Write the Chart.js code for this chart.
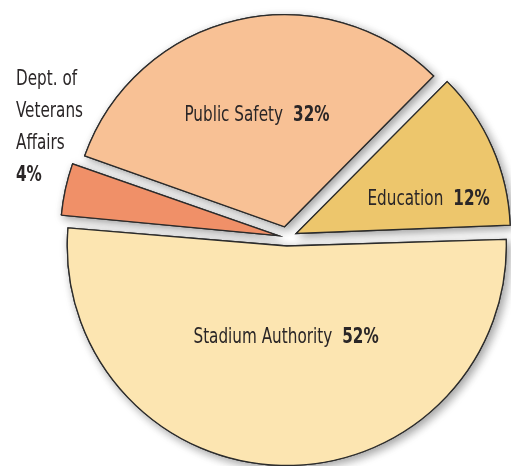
<!DOCTYPE html>
<html>
<head>
<meta charset="utf-8">
<script src="https://cdn.jsdelivr.net/npm/chart.js@4.4.1/dist/chart.umd.min.js"></script>
<style>
  html, body { margin: 0; padding: 0; background: #fff; }
  #wrap { position: relative; width: 511px; height: 466px; }
</style>
</head>
<body>
<div id="wrap"><canvas id="budgetPie"></canvas></div>
<script>
const categories = ['Public Safety', 'Education', 'Stadium Authority', 'Dept. of Veterans Affairs'];
const shares = [32, 12, 52, 4];
const sliceColors = ['#f8c195', '#edc66c', '#fce5b1', '#f09068'];
const sliceOffsets = [44, 40, 34, 36];

const FONT_FAMILY = '"Liberation Sans Narrow", "DejaVu Sans Condensed", "Roboto", sans-serif';
const TEXT_COLOR = '#2a2627';
const SQUEEZE = 0.77;

// label spot inside a slice: fraction of radius + turn (deg) away from slice middle
const labelSpots = [
  { frac: 0.568, turn: -1.6 },
  { frac: 0.689, turn: 10.6 },
  { frac: 0.498, turn: -1 },
  null
];

function drawLabel(ctx, name, pct, x, y) {
  ctx.save();
  ctx.translate(x, y);
  ctx.scale(SQUEEZE, 1);
  const reg = '22px ' + FONT_FAMILY;
  const bold = 'bold 22px ' + FONT_FAMILY;
  ctx.font = reg;
  const w1 = ctx.measureText(name).width;
  ctx.font = bold;
  const w2 = ctx.measureText(pct).width;
  const gap = 13;
  let left = -(w1 + gap + w2) / 2;
  ctx.font = reg;
  ctx.fillText(name, left, 0);
  ctx.font = bold;
  ctx.fillText(pct, left + w1 + gap, 0);
  ctx.restore();
}

// soft grey drop shadow under every slice, painted before the slices themselves
const sliceShadow = {
  id: 'sliceShadow',
  beforeDatasetsDraw(chart) {
    const ctx = chart.ctx;
    const meta = chart.getDatasetMeta(0);
    ctx.save();
    ctx.shadowColor = 'rgba(0,0,0,0.38)';
    ctx.shadowBlur = 10;
    ctx.shadowOffsetX = 3;
    ctx.shadowOffsetY = 3;
    meta.data.forEach(arc => arc.draw(ctx));
    ctx.restore();
  }
};

const sliceLabels = {
  id: 'sliceLabels',
  afterDatasetsDraw(chart) {
    const ctx = chart.ctx;
    const meta = chart.getDatasetMeta(0);
    ctx.save();
    ctx.fillStyle = TEXT_COLOR;
    ctx.textBaseline = 'alphabetic';
    ctx.textAlign = 'left';
    meta.data.forEach((arc, i) => {
      const spot = labelSpots[i];
      const pct = shares[i] + '%';
      if (!spot) {
        // small slice: text sits outside, to the upper left
        const lines = ['Dept. of', 'Veterans', 'Affairs'];
        ctx.save();
        ctx.translate(16, 85);
        ctx.scale(SQUEEZE, 1);
        ctx.font = '22px ' + FONT_FAMILY;
        lines.forEach((ln, k) => ctx.fillText(ln, 0, k * 32));
        ctx.font = 'bold 22px ' + FONT_FAMILY;
        ctx.fillText(pct, 0, 96);
        ctx.restore();
        return;
      }
      const mid = (arc.startAngle + arc.endAngle) / 2 + spot.turn * Math.PI / 180;
      const r = spot.frac * arc.outerRadius;
      drawLabel(ctx, categories[i], pct, arc.x + Math.cos(mid) * r, arc.y + Math.sin(mid) * r);
    });
    ctx.restore();
  }
};

new Chart(document.getElementById('budgetPie'), {
  type: 'pie',
  data: {
    labels: categories,
    datasets: [{
      data: shares,
      backgroundColor: sliceColors,
      borderColor: '#2b2b2b',
      borderWidth: 1.3,
      borderJoinStyle: 'miter',
      offset: sliceOffsets,
      hoverOffset: 0
    }]
  },
  options: {
    responsive: true,
    maintainAspectRatio: false,
    animation: false,
    rotation: -70.5,
    radius: 211,
    clip: false,
    layout: { padding: { left: 63, right: 0, top: 9, bottom: 0 } },
    events: [],
    plugins: {
      legend: { display: false },
      tooltip: { enabled: false }
    }
  },
  plugins: [sliceShadow, sliceLabels]
});
</script>
</body>
</html>
